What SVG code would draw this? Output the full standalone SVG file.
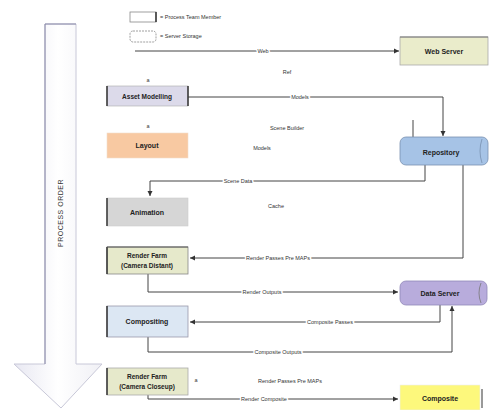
<svg xmlns="http://www.w3.org/2000/svg" width="489" height="410" viewBox="0 0 489 410">
<style>
.t{font-family:"Liberation Sans",Arial,sans-serif;font-size:6.5px;fill:#222;text-anchor:middle}
.n{font-family:"Liberation Sans",Arial,sans-serif;font-size:7px;font-weight:bold;fill:#222;text-anchor:middle}
.l{font-family:"Liberation Sans",Arial,sans-serif;font-size:5.5px;fill:#333;text-anchor:middle;stroke:#fff;stroke-width:3px;paint-order:stroke;stroke-linejoin:round}
.c{fill:none;stroke:#444;stroke-width:1}
.side{stroke:#333;stroke-width:1.5}
</style>
<defs>
<marker id="ah" markerWidth="6" markerHeight="6" refX="5" refY="3" orient="auto" markerUnits="userSpaceOnUse">
<path d="M0,0.5 L5,3 L0,5.5 z" fill="#333"/>
</marker>
<linearGradient id="arr" x1="0" y1="0" x2="1" y2="0">
<stop offset="0" stop-color="#e8e8f2"/>
<stop offset="0.5" stop-color="#ffffff"/>
<stop offset="1" stop-color="#f0f0f5"/>
</linearGradient>
</defs>
<rect width="489" height="410" fill="#fff"/>

<g id="process-order">
<path d="M45,24 L76,24 L76,364 L102,364 L61,408 L14,364 L45,364 Z" fill="url(#arr)" stroke="#c8c8d8" stroke-width="1"/>
<line x1="45" y1="24" x2="45" y2="364" stroke="#8888a8" stroke-width="1"/>
<line x1="45" y1="24" x2="76" y2="24" stroke="#8888a8" stroke-width="1"/>
<text transform="translate(63,213) rotate(-90)" style="font-family:'Liberation Sans',Arial,sans-serif;font-size:7px;fill:#333;text-anchor:middle;letter-spacing:0.5px">PROCESS ORDER</text>
</g>

<g id="legend">
<rect x="130" y="12" width="26" height="10" fill="#fff" stroke="#888" stroke-width="0.8"/>
<line x1="156" y1="12" x2="156" y2="22" class="side"/>
<text class="l" x="160" y="19" style="text-anchor:start">= Process Team Member</text>
<rect x="130" y="31" width="26" height="11" rx="3" fill="#fff" stroke="#888" stroke-width="0.8" stroke-dasharray="2,1"/>
<text class="l" x="160" y="38" style="text-anchor:start">= Server Storage</text>
</g>

<g id="connectors">
<line class="c" x1="135" y1="51" x2="399" y2="51" marker-end="url(#ah)"/>
<text class="l" x="263" y="53">Web</text>
<text class="l" x="287" y="74">Ref</text>
<polyline class="c" points="188,97 443,97 443,136" marker-end="url(#ah)"/>
<text class="l" x="300" y="99">Models</text>
<line class="c" x1="413" y1="120" x2="413" y2="137"/>
<text class="l" x="287" y="130">Scene Builder</text>
<text class="l" x="262" y="150">Models</text>
<polyline class="c" points="425,165 425,181 150,181 150,196" marker-end="url(#ah)"/>
<text class="l" x="238" y="183">Scene Data</text>
<text class="l" x="276" y="208">Cache</text>
<polyline class="c" points="463,165 463,258 190,258" marker-end="url(#ah)"/>
<text class="l" x="278" y="260">Render Passes Pre MAPs</text>
<polyline class="c" points="148,274 148,292 398,292" marker-end="url(#ah)"/>
<text class="l" x="262" y="294">Render Outputs</text>
<polyline class="c" points="440,305 440,322 190,322" marker-end="url(#ah)"/>
<text class="l" x="330" y="324">Composite Passes</text>
<polyline class="c" points="148,337 148,352 452,352 452,306" marker-end="url(#ah)"/>
<text class="l" x="278" y="354">Composite Outputs</text>
<text class="l" x="290" y="383">Render Passes Pre MAPs</text>
<polyline class="c" points="148,395 148,399 398,399" marker-end="url(#ah)"/>
<text class="l" x="264" y="401">Render Composite</text>
</g>

<g id="web-server">
<rect x="400" y="37" width="88" height="28" fill="#eaeccb" stroke="#aaa" stroke-width="0.8"/>
<line x1="400" y1="37" x2="488" y2="37" stroke="#777" stroke-width="1.2"/>
<text class="n" x="444" y="54">Web Server</text>
</g>

<g id="asset-modelling">
<rect x="107" y="86" width="81" height="20" fill="#dcdaea" stroke="#aaa" stroke-width="0.6"/>
<line x1="107" y1="86" x2="107" y2="106" class="side"/>
<line x1="188" y1="86" x2="188" y2="106" class="side"/>
<text class="t" x="147" y="99" style="font-weight:bold">Asset Modelling</text>
<text class="l" x="148" y="82">a</text>
</g>

<g id="layout">
<rect x="107" y="133" width="81" height="25" fill="#f8c9a2" stroke="#f2dccb" stroke-width="0.6"/>
<text class="n" x="147" y="148">Layout</text>
<text class="l" x="148" y="128">a</text>
</g>

<g id="repository">
<rect x="400" y="137" width="88" height="28" rx="6" fill="#a6c3e6" stroke="#7890b0" stroke-width="0.8"/>
<path d="M482,139 Q478,151 482,163" fill="none" stroke="#7890b0" stroke-width="0.8"/>
<text class="n" x="441" y="155">Repository</text>
</g>

<g id="animation">
<rect x="107" y="198" width="81" height="28" fill="#d6d6d6" stroke="#ccc" stroke-width="0.6"/>
<line x1="107" y1="198" x2="107" y2="226" class="side"/>
<text class="n" x="147" y="215">Animation</text>
</g>

<g id="render-farm-distant">
<rect x="107" y="247" width="81" height="27" fill="#e6e9cb" stroke="#888" stroke-width="0.8"/>
<line x1="107" y1="247" x2="107" y2="274" class="side"/>
<line x1="107" y1="247" x2="188" y2="247" stroke="#555" stroke-width="1"/>
<text class="t" x="147" y="258" style="font-weight:bold">Render Farm</text>
<text class="t" x="147" y="268" style="font-weight:bold">(Camera Distant)</text>
</g>

<g id="data-server">
<rect x="400" y="281" width="87" height="24" rx="6" fill="#b8acdc" stroke="#9088b8" stroke-width="0.8"/>
<path d="M481,283 Q477,293 481,303" fill="none" stroke="#777" stroke-width="0.8"/>
<text class="n" x="440" y="296">Data Server</text>
</g>

<g id="compositing">
<rect x="107" y="306" width="81" height="31" fill="#dce7f3" stroke="#99a" stroke-width="0.8"/>
<line x1="107" y1="306" x2="107" y2="337" class="side"/>
<text class="n" x="147" y="324">Compositing</text>
</g>

<g id="render-farm-closeup">
<rect x="107" y="368" width="81" height="27" fill="#e6e9cb" stroke="#aaa" stroke-width="0.8"/>
<line x1="107" y1="368" x2="107" y2="395" class="side"/>
<text class="t" x="147" y="379" style="font-weight:bold">Render Farm</text>
<text class="t" x="147" y="389" style="font-weight:bold">(Camera Closeup)</text>
<text class="l" x="196" y="382">a</text>
</g>

<g id="composite">
<rect x="400" y="385" width="80" height="25" fill="#fdf87c" stroke="#eee" stroke-width="0.6"/>
<line x1="482" y1="389" x2="482" y2="408" stroke="#555" stroke-width="1.2"/>
<text class="n" x="440" y="401">Composite</text>
</g>
</svg>
